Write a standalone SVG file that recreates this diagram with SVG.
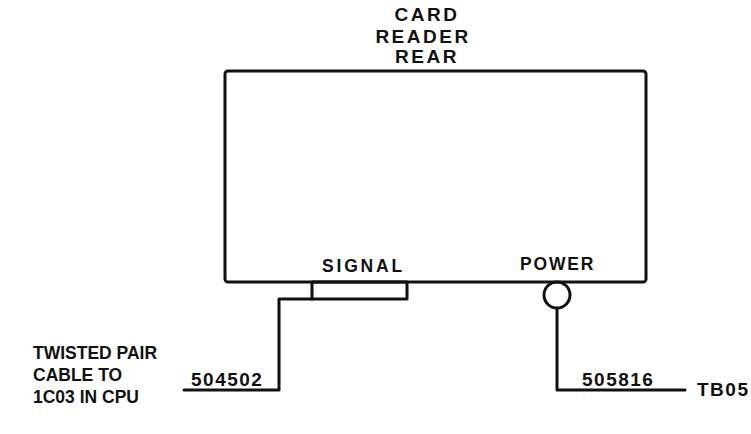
<svg xmlns="http://www.w3.org/2000/svg" width="751" height="434" viewBox="0 0 751 434">
<style>
text{font-family:"Liberation Sans",Arial,sans-serif;font-weight:bold;font-size:17.5px;fill:#111}
.t{font-size:19px;letter-spacing:2.5px}
.n{font-size:19px;letter-spacing:1.5px}
.ln{fill:none;stroke:#111;stroke-width:3;stroke-linejoin:round;stroke-linecap:round}
</style>
<rect width="751" height="434" fill="#fff"/>
<g id="card-reader">
<rect class="ln" x="225" y="71" width="421" height="211" rx="3"/>
<text class="t" x="427" y="21" text-anchor="middle">CARD</text>
<text class="t" x="423" y="43" text-anchor="middle">READER</text>
<text class="t" x="427" y="63" text-anchor="middle">REAR</text>
<text x="322" y="272" letter-spacing="2.8">SIGNAL</text>
<text x="520" y="270" letter-spacing="1.8">POWER</text>
</g>
<g id="signal-connector">
<rect class="ln" x="312" y="282" width="95" height="17"/>
</g>
<g id="power-connector">
<circle class="ln" cx="557" cy="295" r="13"/>
</g>
<g id="cpu-label">
<text x="33" y="359">TWISTED PAIR</text>
<text x="33" y="381">CABLE TO</text>
<text x="33" y="403">1C03 IN CPU</text>
</g>
<g id="tb05-label">
<text class="n" x="697" y="396">TB05</text>
</g>
<g id="connectors">
<path class="ln" d="M312 299 H279 V390 H184"/>
<text class="n" x="191" y="386" letter-spacing="1">504502</text>
<path class="ln" d="M557 308 V390 H685"/>
<text class="n" x="582" y="386">505816</text>
</g>
</svg>
